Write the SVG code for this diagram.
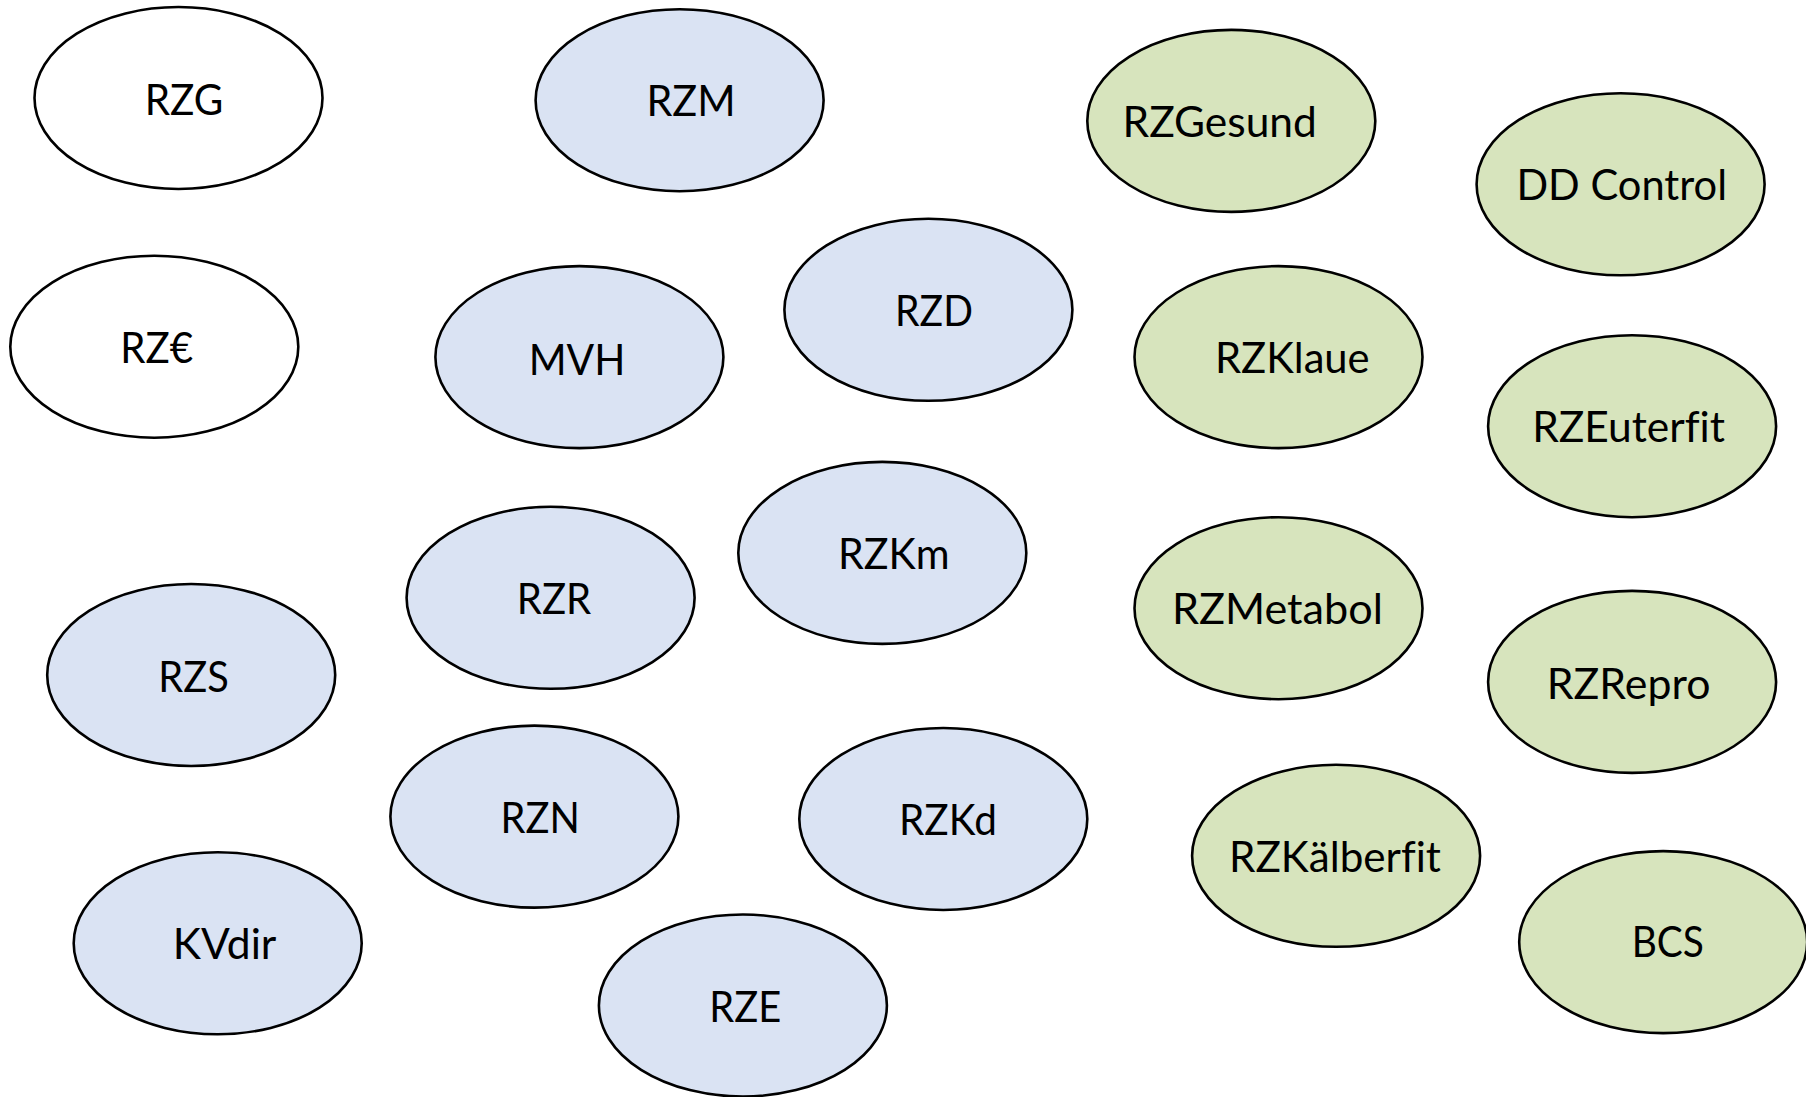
<svg xmlns="http://www.w3.org/2000/svg" width="1806" height="1097" viewBox="0 0 1806 1097">
  <style>
    .node ellipse { stroke: #000; stroke-width: 2.6; }
    .plain ellipse { fill: #FFFFFF; }
    .blue ellipse { fill: #DAE3F3; }
    .green ellipse { fill: #D7E4BD; }
    .node text { font-family: Lato, "Open Sans", "Liberation Sans", sans-serif; font-size: 42px; fill: #000; text-anchor: middle; font-variant-ligatures: none; font-feature-settings: "liga" 0; }
  </style>
  <rect width="1806" height="1097" fill="#FFFFFF"/>
  <g id="connectors"/>

  <!-- overall indices -->
  <g id="rzg" class="node plain"><ellipse cx="178.5" cy="98" rx="144" ry="91"/><text x="184" y="115" textLength="78.6" lengthAdjust="spacingAndGlyphs">RZG</text></g>
  <g id="rz-euro" class="node plain"><ellipse cx="154.3" cy="346.7" rx="144" ry="91"/><text x="156.6" y="363" textLength="72.8" lengthAdjust="spacingAndGlyphs">RZ€</text></g>

  <!-- production and conformation traits -->
  <g id="rzm" class="node blue"><ellipse cx="679.6" cy="100.2" rx="144" ry="91"/><text x="691" y="116" textLength="89.1" lengthAdjust="spacingAndGlyphs">RZM</text></g>
  <g id="mvh" class="node blue"><ellipse cx="579.4" cy="357.1" rx="144" ry="91"/><text x="577" y="375" textLength="96.7" lengthAdjust="spacingAndGlyphs">MVH</text></g>
  <g id="rzd" class="node blue"><ellipse cx="928.4" cy="309.8" rx="144" ry="91"/><text x="934" y="326" textLength="77.8" lengthAdjust="spacingAndGlyphs">RZD</text></g>
  <g id="rzr" class="node blue"><ellipse cx="550.6" cy="597.8" rx="144" ry="91"/><text x="554" y="614" textLength="74.4" lengthAdjust="spacingAndGlyphs">RZR</text></g>
  <g id="rzkm" class="node blue"><ellipse cx="882.3" cy="552.9" rx="144" ry="91"/><text x="893.8" y="569" textLength="111.6" lengthAdjust="spacingAndGlyphs">RZKm</text></g>
  <g id="rzs" class="node blue"><ellipse cx="191.2" cy="675" rx="144" ry="91"/><text x="193.5" y="692" textLength="70.5" lengthAdjust="spacingAndGlyphs">RZS</text></g>
  <g id="rzn" class="node blue"><ellipse cx="534.4" cy="816.6" rx="144" ry="91"/><text x="540.2" y="833" textLength="79.3" lengthAdjust="spacingAndGlyphs">RZN</text></g>
  <g id="rzkd" class="node blue"><ellipse cx="943.3" cy="819" rx="144" ry="91"/><text x="948" y="835" textLength="98" lengthAdjust="spacingAndGlyphs">RZKd</text></g>
  <g id="kvdir" class="node blue"><ellipse cx="217.7" cy="943.3" rx="144" ry="91"/><text x="224.6" y="959" textLength="103.5" lengthAdjust="spacingAndGlyphs">KVdir</text></g>
  <g id="rze" class="node blue"><ellipse cx="742.9" cy="1005.5" rx="144" ry="91"/><text x="745.2" y="1022" textLength="71.9" lengthAdjust="spacingAndGlyphs">RZE</text></g>

  <!-- health and fitness traits -->
  <g id="rzgesund" class="node green"><ellipse cx="1231.3" cy="120.9" rx="144" ry="91"/><text x="1219.7" y="137" textLength="194.4" lengthAdjust="spacingAndGlyphs">RZGesund</text></g>
  <g id="dd-control" class="node green"><ellipse cx="1620.6" cy="184.3" rx="144" ry="91"/><text x="1621.7" y="200" textLength="210.6" lengthAdjust="spacingAndGlyphs">DD Control</text></g>
  <g id="rzklaue" class="node green"><ellipse cx="1278.5" cy="357.1" rx="144" ry="91"/><text x="1292.3" y="373" textLength="154.7" lengthAdjust="spacingAndGlyphs">RZKlaue</text></g>
  <g id="rzeuterfit" class="node green"><ellipse cx="1632.1" cy="426.2" rx="144" ry="91"/><text x="1628.6" y="442" textLength="192.9" lengthAdjust="spacingAndGlyphs">RZEuterfit</text></g>
  <g id="rzmetabol" class="node green"><ellipse cx="1278.5" cy="608.2" rx="144" ry="91"/><text x="1277.4" y="624" textLength="211" lengthAdjust="spacingAndGlyphs">RZMetabol</text></g>
  <g id="rzrepro" class="node green"><ellipse cx="1632.1" cy="681.9" rx="144" ry="91"/><text x="1628.6" y="699" textLength="163.7" lengthAdjust="spacingAndGlyphs">RZRepro</text></g>
  <g id="rzkaelberfit" class="node green"><ellipse cx="1336.1" cy="855.8" rx="144" ry="91"/><text x="1335" y="872" textLength="212" lengthAdjust="spacingAndGlyphs">RZKälberfit</text></g>
  <g id="bcs" class="node green"><ellipse cx="1663.2" cy="942.1" rx="144" ry="91"/><text x="1667.8" y="957" textLength="72.2" lengthAdjust="spacingAndGlyphs">BCS</text></g>
</svg>
